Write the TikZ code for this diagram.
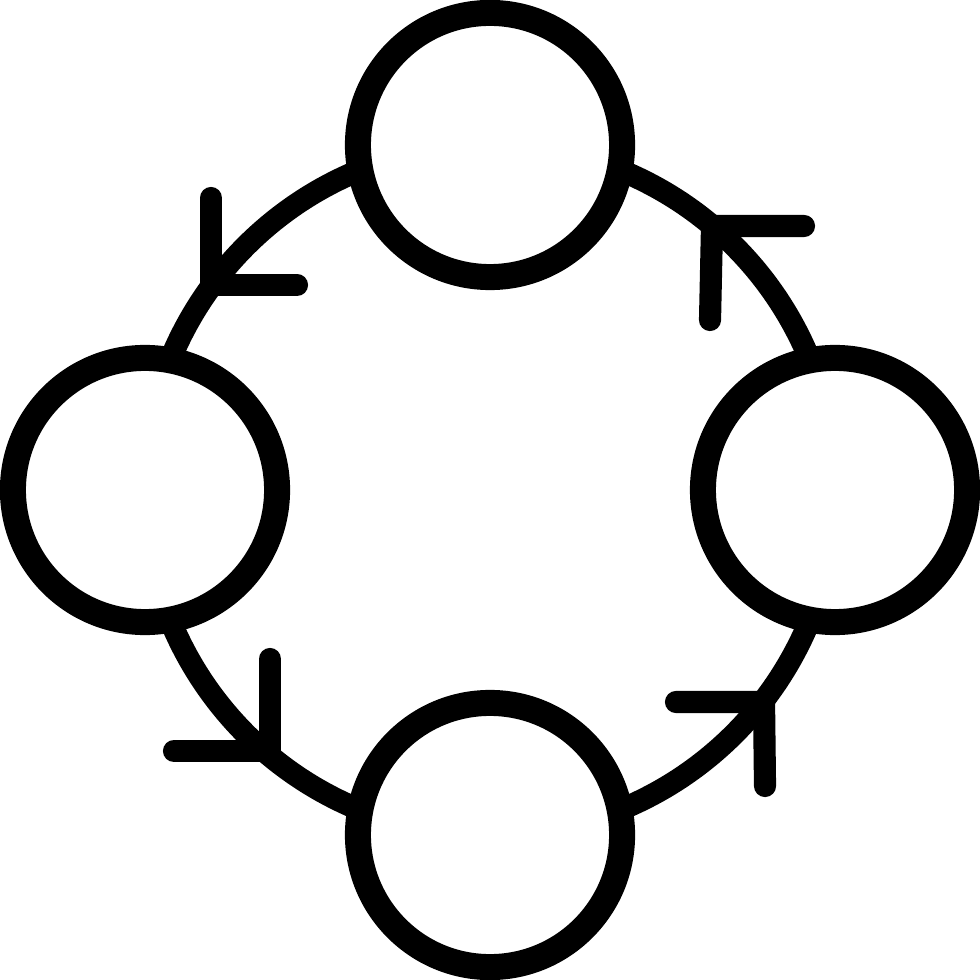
\documentclass[tikz,border=0pt]{standalone}
\begin{document}
\begin{tikzpicture}[x=0.01cm,y=-0.01cm,
  ringline/.style={line width=6.3pt},
  chevron/.style={line width=6.3pt,line cap=round,line join=miter},
  disc/.style={circle,draw,fill=white,line width=7.4pt,minimum size=2.64cm,inner sep=0pt}]
\useasboundingbox (0,0) rectangle (980,980);
\fill[white] (0,0) rectangle (980,980);
\coordinate (c) at (490,490);
\draw[ringline] (c) circle[radius=3.45cm];
% arrow chevrons (corner on the ring)
\coordinate (a1) at (211,285);
\coordinate (a1u) at (211,198);
\coordinate (a1r) at (297,285);
\draw[chevron] (a1u) -- (a1) -- (a1r);
\coordinate (a2) at (712,226);
\coordinate (a2r) at (804,226);
\coordinate (a2d) at (710,320);
\draw[chevron] (a2r) -- (a2) -- (a2d);
\coordinate (a3) at (764,702);
\coordinate (a3l) at (676,702);
\coordinate (a3d) at (765,786);
\draw[chevron] (a3l) -- (a3) -- (a3d);
\coordinate (a4) at (270,751);
\coordinate (a4u) at (270,659);
\coordinate (a4l) at (174,751);
\draw[chevron] (a4u) -- (a4) -- (a4l);
% circles
\node[disc] (ctop) at (490,145) {};
\node[disc] (cleft) at (145,490) {};
\node[disc] (cright) at (835,490) {};
\node[disc] (cbot) at (490,835) {};
\end{tikzpicture}
\end{document}
